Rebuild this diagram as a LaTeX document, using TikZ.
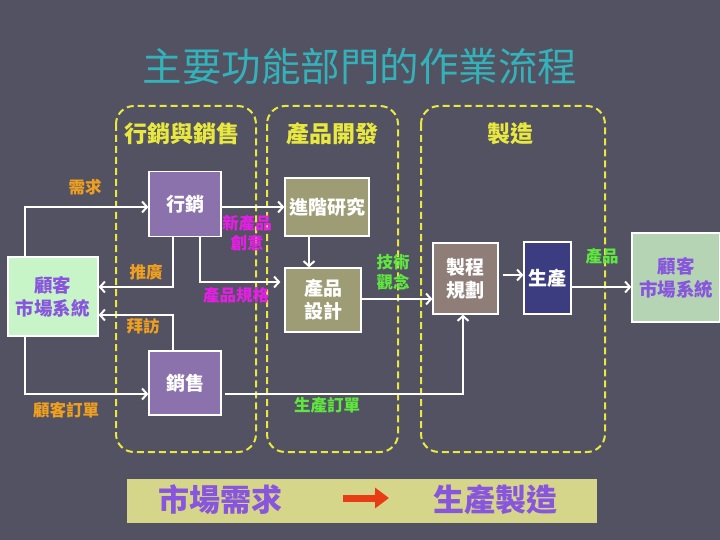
\documentclass[tikz,border=0pt]{standalone}
\usepackage{fontspec}
\newfontfamily\cjk{Noto Sans CJK TC}
\usetikzlibrary{arrows.meta,calc}
\definecolor{bg}{RGB}{82,82,98}
\definecolor{titlec}{RGB}{52,178,186}
\definecolor{dashy}{RGB}{232,232,64}
\definecolor{mkfill}{RGB}{139,114,173}
\definecolor{olive}{RGB}{158,156,116}
\definecolor{ppfill}{RGB}{143,125,120}
\definecolor{prfill}{RGB}{60,60,128}
\definecolor{custl}{RGB}{200,245,200}
\definecolor{custr}{RGB}{180,212,180}
\definecolor{custtxt}{RGB}{136,85,221}
\definecolor{orangel}{RGB}{240,160,32}
\definecolor{magl}{RGB}{230,30,230}
\definecolor{greenl}{RGB}{96,230,64}
\definecolor{banner}{RGB}{214,214,138}
\definecolor{redarr}{RGB}{232,60,20}
\tikzset{
  box/.style={draw=white, line width=1.2pt, text=white, font=\cjk\bfseries\fontsize{19}{23}\selectfont, align=center, inner sep=0pt},
  cust/.style={draw=white, line width=1.2pt, text=custtxt, font=\cjk\bfseries\fontsize{18.5}{23}\selectfont, align=center, inner sep=0pt},
  grp/.style={draw=dashy, line width=2pt, dash pattern=on 7pt off 4pt, rounded corners=18pt},
  hdr/.style={text=dashy, font=\cjk\bfseries\fontsize{23}{27}\selectfont},
  lbl/.style={font=\cjk\bfseries\fontsize{16.5}{20}\selectfont, align=center, inner sep=0pt},
  arr/.style={draw=white, line width=2.5pt, -{Straight Barb[length=5pt,width=11pt,line width=2pt]}},
}
\begin{document}
\begin{tikzpicture}[x=1pt,y=-1pt]
\fill[bg] (0,0) rectangle (720,540);
\useasboundingbox (0,0) rectangle (720,540);

% title
\node[text=titlec, font=\cjk\fontsize{39.5}{44}\selectfont] (title) at (360,66) {主要功能部門的作業流程};

% groups
\draw[grp] (116,106) rectangle (256,452);
\draw[grp] (267,106) rectangle (398,452);
\draw[grp] (421,106) rectangle (605,452);
\node[hdr] (h1) at (182,134) {行銷與銷售};
\node[hdr] (h2) at (332,134) {產品開發};
\node[hdr] (h3) at (510,134) {製造};

% nodes
\node[box, fill=mkfill, minimum width=72pt, minimum height=65pt] (mk) at (185,204) {行銷};
\node[box, fill=mkfill, minimum width=72pt, minimum height=64pt] (sl) at (185,383) {銷售};
\node[box, fill=olive, minimum width=84pt, minimum height=58pt] (rs) at (327,207) {進階研究};
\node[box, fill=olive, minimum width=76pt, minimum height=64pt] (pd) at (323,300) {產品\\設計};
\node[box, fill=ppfill, minimum width=65pt, minimum height=71pt] (pp) at (465.5,278.5) {製程\\規劃};
\node[box, fill=prfill, minimum width=47pt, minimum height=72pt] (pr) at (547.5,278) {生產};
\node[cust, fill=custl, minimum width=90pt, minimum height=79pt] (cl) at (53,296.5) {顧客\\市場系統};
\node[cust, fill=custr, minimum width=88pt, minimum height=89pt] (cr) at (676,277.5) {顧客\\市場系統};

% helper coordinates
\coordinate (xa) at (25,0);
\coordinate (xb) at (173,0);
\coordinate (xc) at (200,0);
\coordinate (xd) at (463,0);
\coordinate (xe) at (309,0);
\coordinate (y1) at (0,207);
\coordinate (y2) at (0,282);
\coordinate (y3) at (0,287);
\coordinate (y4) at (0,315);
\coordinate (y5) at (0,394);
\coordinate (y6) at (0,299);
\coordinate (y7) at (0,275);

% connectors
\draw[arr] (cl.north -| xa) |- (mk.west |- y1);
\draw[arr] (mk.east |- y1) -- (rs.west |- y1);
\draw[arr] (mk.south -| xc) |- ([xshift=-4pt]pd.west |- y2);
\draw[arr] (mk.south -| xb) |- (cl.east |- y3);
\draw[arr] (sl.north -| xb) |- (cl.east |- y4);
\draw[arr] (cl.south -| xa) |- (sl.west |- y5);
\draw[arr] ([xshift=3pt]sl.east |- y5) -| (pp.south -| xd);
\draw[arr] (rs.south -| xe) -- (pd.north -| xe);
\draw[arr] (pd.east |- y6) -- (pp.west |- y6);
\draw[arr, shorten <=4pt] (pp.east |- y7) -- (pr.west |- y7);
\draw[arr] (pr.east |- y3) -- (cr.west |- y3);

% labels
\node[lbl, text=orangel] (l1) at (85,187) {需求};
\node[lbl, text=magl] (l2) at (247,233) {新產品\\創意};
\node[lbl, text=magl] (l3) at (236,295) {產品規格};
\node[lbl, text=orangel] (l4) at (146,272) {推廣};
\node[lbl, text=orangel] (l5) at (143,326) {拜訪};
\node[lbl, text=orangel] (l6) at (66,410) {顧客訂單};
\node[lbl, text=greenl] (l7) at (327,405) {生產訂單};
\node[lbl, text=greenl] (l8) at (393,272) {技術\\觀念};
\node[lbl, text=greenl] (l9) at (602,256) {產品};

% banner
\fill[banner] (127,479) rectangle (597,523);
\node[text=custtxt, font=\cjk\bfseries\fontsize{31}{35}\selectfont] (b1) at (220,500) {市場需求};
\node[text=custtxt, font=\cjk\bfseries\fontsize{31}{35}\selectfont] (b2) at (495,500) {生產製造};
\coordinate (ra) at (343,498);
\coordinate (rb) at (389,498);
\draw[redarr, line width=7pt, -{Triangle[length=14pt,width=20pt]}] (ra) -- (rb);
\end{tikzpicture}
\end{document}
